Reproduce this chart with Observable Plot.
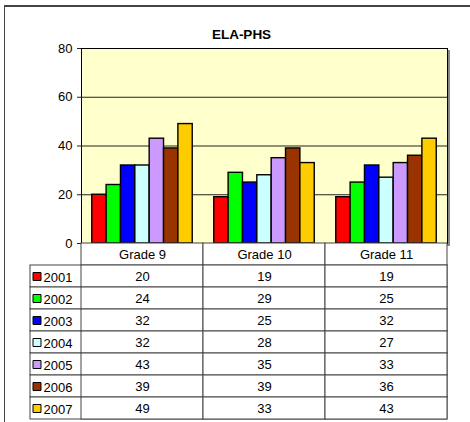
<!DOCTYPE html>
<html>
<head>
<meta charset="utf-8">
<script src="https://cdn.jsdelivr.net/npm/d3@7"></script>
<script src="https://cdn.jsdelivr.net/npm/@observablehq/plot@0.6"></script>
<style>
  html, body { margin: 0; padding: 0; background: white; }
  #wrap { position: relative; width: 470px; height: 422px; overflow: hidden; background: white; }
  #wrap svg { position: absolute; left: 0; top: 0; }
  #border { position: absolute; left: 4px; top: 5px; width: 480px; height: 430px;
            border-top: 2px solid #444; border-left: 1px solid #444; }
</style>
</head>
<body>
<div id="wrap"><div id="border"></div></div>
<script>
const title = "ELA-PHS";
const grades = ["Grade 9", "Grade 10", "Grade 11"];
const years = ["2001", "2002", "2003", "2004", "2005", "2006", "2007"];
const colors = ["#FF0000", "#00FF00", "#0000FF", "#CCFFFF", "#CC99FF", "#993300", "#FFCC00"];
const yTicks = [0, 20, 40, 60, 80];
const v2001 = [20, 19, 19];
const v2002 = [24, 29, 25];
const v2003 = [32, 25, 32];
const v2004 = [32, 28, 27];
const v2005 = [43, 35, 33];
const v2006 = [39, 39, 36];
const v2007 = [49, 33, 43];
const seriesValues = [v2001, v2002, v2003, v2004, v2005, v2006, v2007];

const rows = years.flatMap((yr, i) => grades.map((g, j) => ({year: yr, grade: g, value: seriesValues[i][j]})));

const font = "'Liberation Sans', Arial, sans-serif";

const chart = Plot.plot({
  width: 470, height: 422,
  marginTop: 48, marginBottom: 179, marginLeft: 81, marginRight: 23,
  style: {fontFamily: font, fontSize: "13px", background: "none", overflow: "visible"},
  fx: {domain: grades, padding: 0, axis: null},
  x: {domain: years, paddingInner: 0, paddingOuter: 0.75, axis: null, round: false},
  y: {domain: [0, 80], label: null},
  color: {domain: years, range: colors},
  marks: [
    Plot.frame({facet: "super", fill: "#888", stroke: "#888", dx: 2, dy: 2}),
    Plot.frame({facet: "super", fill: "#FFFFCC", stroke: "black"}),
    Plot.ruleY([20, 40, 60], {stroke: "#222", strokeWidth: 1}),
    Plot.barY(rows, {fx: "grade", x: "year", y: "value", fill: "year", stroke: "black", strokeWidth: 1.4}),
    Plot.axisY({ticks: yTicks, label: null, tickSize: 4, tickPadding: 5, fontSize: 13, stroke: "#222"}),
    Plot.text([title], {facet: "super", text: d => d, frameAnchor: "top", lineAnchor: "middle", dy: -14, dx: -23,
      fontWeight: "bold", fontSize: 13.5})
  ]
});

const table = Plot.plot({
  width: 470, height: 422,
  marginTop: 243, marginBottom: 3, marginLeft: 30, marginRight: 23,
  style: {fontFamily: font, fontSize: "13px", background: "none", overflow: "visible"},
  x: {domain: grades, range: [81, 447], padding: 0, axis: null},
  y: {domain: ["header", ...years], padding: 0, axis: null},
  color: {domain: years, range: colors},
  marks: [
    Plot.cell(years, {y: d => d, fill: "white", stroke: "#444"}),
    Plot.cell(grades, {x: d => d, y: () => "header", fill: "white", stroke: "#444"}),
    Plot.cell(rows, {x: "grade", y: "year", fill: "white", stroke: "#444"}),
    Plot.text(grades, {x: d => d, y: () => "header", text: d => d, fontSize: 13}),
    Plot.text(rows, {x: "grade", y: "year", text: "value", fontSize: 13}),
    Plot.dot(years, {y: d => d, frameAnchor: "left", dx: 6.5, symbol: "square", r: 4.5, fill: d => d, stroke: "black", strokeWidth: 1}),
    Plot.text(years, {y: d => d, text: d => d, frameAnchor: "left", textAnchor: "start", dx: 13, dy: 1.5, fontSize: 13})
  ]
});

const wrap = document.getElementById("wrap");
wrap.appendChild(chart);
wrap.appendChild(table);
</script>
</body>
</html>
